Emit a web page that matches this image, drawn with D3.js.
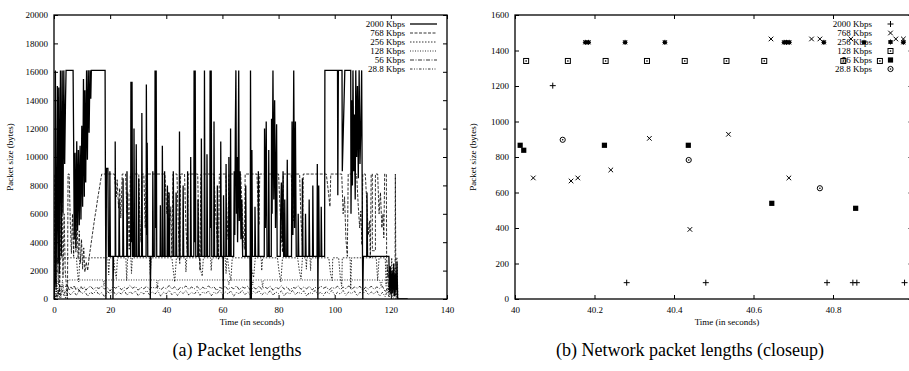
<!DOCTYPE html>
<html><head><meta charset="utf-8">
<script src="https://cdn.jsdelivr.net/npm/d3@7"></script>
<style>body{margin:0;background:#fff}svg{display:block}text{font-family:"Liberation Serif","Times New Roman",serif;fill:#000}</style>
</head><body><svg id="c" width="909" height="371"></svg>
<script>
// ---------- Left chart: packet lengths over time ----------
const leftSeriesNames = ["2000 Kbps","768 Kbps","256 Kbps","128 Kbps","56 Kbps","28.8 Kbps"];
const leftXTicks = [0,20,40,60,80,100,120,140];
const leftYTicks = [0,2000,4000,6000,8000,10000,12000,14000,16000,18000,20000];

const s2000 = [[0,200],[0.3,1500],[0.5,16100],[0.7,900],[1.0,7000],[1.2,15000],[1.4,2500],[1.7,14900],[1.9,1800],[2.3,16100],[2.6,3000],[2.9,16100],[3.2,6000],[3.5,16100],[3.8,9500],[4.1,14000],[4.3,16100],[6.8,16100],[7.0,11000],[7.2,4200],[7.5,10300],[7.8,3600],[8.1,11100],[8.4,4800],[8.7,10500],[9.0,5200],[9.3,10800],[9.6,5600],[9.9,12200],[10.2,6500],[10.5,15500],[10.8,7200],[11.0,14700],[11.3,8200],[11.6,16100],[11.9,9800],[12.2,16100],[12.5,11700],[12.8,16100],[13.1,14100],[13.3,16100],[18.2,16100],[18.3,9200],[18.5,0],[18.7,9200],[19.2,9200],[19.4,3000],
[19.8,3000],[19.9,9000],[20.1,3000],[21.0,3000],[21.0,0],[21.2,3000],[21.8,3000],[21.8,11100],[22.0,3000],[23.1,3000],[23.2,7000],[23.4,3000],[24.5,3000],[24.6,8500],[24.8,3000],[25.9,3000],[26.0,9000],[26.2,3000],
[27.3,3000],[27.4,15300],[27.6,4000],[27.8,15300],[28.0,3000],[28.4,3000],[28.5,12000],[28.7,3000],[29.2,3000],[29.3,10900],[29.5,3000],[30.1,3000],[30.2,8500],[30.4,3000],[31.2,3000],[31.3,13100],[31.5,3000],
[32.8,3000],[32.9,15100],[33.1,4500],[33.2,11000],[33.4,3000],[34.3,3000],[34.3,0],[34.5,3000],[35.1,3000],[35.2,9000],[35.4,3000],
[35.9,3000],[36.0,16100],[36.2,5000],[36.4,16100],[36.6,3000],[37.8,3000],[37.9,6600],[38.0,3000],[38.5,3000],[38.6,10800],[38.8,3000],[39.3,3000],[39.4,9000],[39.6,3000],
[40.3,3000],[40.4,8000],[40.6,3000],[40.9,3000],[41.0,7500],[41.2,3000],[42.4,3000],[42.5,9000],[42.7,3000],[43.4,3000],[43.5,7500],[43.7,3000],
[44.6,3000],[44.7,11800],[44.9,3000],[45.9,3000],[46.0,8000],[46.2,3000],[47.5,3000],[47.6,9000],[47.8,3000],[48.6,3000],[48.7,10000],[48.9,3000],
[49.8,3000],[49.9,16100],[50.1,4000],[50.3,16100],[50.5,3000],[51.2,3000],[51.3,7000],[51.5,3000],[52.4,3000],[52.5,11300],[52.7,3000],
[53.5,3000],[53.6,16100],[53.8,3000],[54.4,3000],[54.5,10200],[54.7,3000],
[55.5,3000],[55.6,16100],[55.8,5000],[56.0,16100],[56.2,3000],[56.9,3000],[57.0,12500],[57.2,3000],[58.1,3000],[58.2,8000],[58.4,3000],
[59.3,3000],[59.4,11100],[59.6,3000],[60.2,3000],[60.3,0],[60.4,7300],[60.6,3000],[61.2,3000],[61.3,9500],[61.5,3000],
[62.2,3000],[62.3,10000],[62.5,3000],[62.8,3000],[62.9,12000],[63.1,3000],
[64.0,3000],[64.2,9000],[64.4,4500],[64.6,12000],[64.8,16100],[65.0,6000],[65.2,10000],[65.4,4000],[65.6,8500],[65.8,16100],[66.0,5500],[66.3,9000],[66.6,4200],[66.9,7000],[67.2,3000],[68.2,3000],[68.3,8000],[68.5,3000],
[69.8,3000],[69.9,0],[70.0,16100],[70.3,0],[70.5,10500],[70.7,3000],[71.5,3000],[71.6,6500],[71.8,3000],[72.7,3000],[72.8,9000],[73.0,3000],
[74.9,3000],[75.0,12000],[75.3,5000],[75.6,12500],[75.9,3000],[76.4,3000],[76.5,10500],[76.7,3000],
[77.4,3000],[77.5,12700],[77.7,6000],[78.0,16100],[78.3,7000],[78.6,14000],[78.9,5000],[79.3,12300],[79.5,3000],
[80.6,3000],[80.7,5500],[81.0,8200],[81.3,4000],[81.6,9000],[81.8,3000],[82.1,3000],[82.2,7000],[82.4,3000],[82.9,3000],[83.1,9800],[83.3,3000],
[84.6,3000],[84.8,12500],[85.1,4500],[85.4,16100],[85.7,5000],[86.0,12500],[86.3,3000],
[86.9,3000],[87.0,6000],[87.2,3000],[88.4,3000],[88.5,8500],[88.7,3000],[89.5,3000],[89.6,6000],[89.8,3000],[90.8,3000],[90.9,7000],[91.1,3000],[92.1,3000],[92.2,8000],[92.4,3000],
[93.7,3000],[93.8,9500],[94.0,0],[94.3,8000],[94.5,3000],[95.1,3000],[95.2,6500],[95.4,3000],
[96.4,3000],[96.5,16100],[101.0,16100],[101.1,7300],[101.3,16100],[102.6,16100],[102.7,9000],[103.6,16100],[105.7,16100],[105.8,6000],[106.1,14000],[106.3,8000],[106.5,16100],[106.8,9000],[107.0,13000],[107.3,7000],[107.5,16100],[107.8,10000],[108.1,15000],[108.4,8500],[108.7,16100],[109.0,9500],[109.3,12000],[109.6,16100],[109.9,3000],[110.0,0],[110.2,3000],
[111.4,3000],[111.5,7500],[111.7,3000],[119.3,3000],[119.5,500],[119.8,2300],[120.1,300],[120.4,2000],[120.7,400],[121.0,2500],[121.3,200],[121.6,1800],[121.9,600],[122.2,2600],[122.4,0],[126,0]];

const s768 = [[0,0],[0.4,8800],[0.8,2500],[1.2,8800],[1.6,5000],[2.0,300],[2.4,4500],[2.8,8800],[3.2,1500],[3.6,6000],[4.0,2000],[4.8,0],[5.0,8800],[5.4,8800],[5.8,5500],[6.2,3200],[6.6,6000],[7.0,3000],[7.4,6500],[7.8,3300],[8.2,5500],[8.6,2800],[9.0,4800],[9.4,2500],[9.8,4200],[10.2,2100],[10.6,3600],[11.0,1900],[11.5,2600],[12.0,2000],[12.5,2900],[13.0,3600],[13.5,4300],[14.0,5000],[14.5,5700],[15.0,6300],[15.5,7000],[16.0,7600],[16.5,8200],[17.0,8800],
[21.5,8800],[22.2,7200],[22.5,8400],[23.0,6400],[23.4,7800],[23.8,5700],[24.3,8800],
[25.5,8800],[26.0,6000],[26.3,7500],[26.8,3500],[27.2,8800],[30.2,8800],[30.6,5500],[31.0,4000],[31.3,8800],[32.0,8800],[32.5,5000],[32.9,8800],
[39.5,8800],[40.2,6000],[40.7,7500],[41.2,4500],[41.6,6500],[42.0,3000],[42.4,8800],[43.8,8800],[44.3,5000],[44.8,2500],[45.1,8800],
[46.5,8800],[47.0,5000],[47.5,3200],[47.8,8800],[51.2,8800],[51.6,4500],[52.0,2000],[52.3,8800],
[57.0,8800],[57.6,6000],[58.1,4200],[58.6,2800],[58.9,8800],[61.2,8800],[61.6,6000],[62.0,4200],[62.3,8800],
[66.5,8800],[67.0,6500],[67.4,4800],[67.8,3500],[68.1,8800],[72.3,8800],[72.7,6500],[73.0,5200],[73.3,8800],
[80.0,8800],[80.5,6500],[81.0,4500],[81.4,3300],[81.7,8800],[84.5,8800],[85.0,6800],[85.4,5500],[85.7,8800],
[87.5,8800],[88.0,5500],[88.5,3800],[88.8,8800],[97.0,8800],[97.6,7800],[98.3,6500],[98.6,8800],
[102.5,8800],[103.0,6000],[103.5,7200],[104.0,4200],[104.5,3000],[104.8,8800],
[107.8,8800],[108.4,6500],[108.9,5000],[109.3,6200],[109.7,3800],[110.0,8800],
[110.9,8800],[111.5,6500],[112.0,4500],[112.4,5500],[112.7,2900],[113.0,8800],[113.4,8800],[113.4,3400],[114.5,3400],[114.5,8800],
[115.3,8800],[115.8,6000],[116.3,7500],[116.8,5000],[117.2,6000],[117.5,4300],[117.8,8800],[118.4,8800],[118.5,2800],[119.0,1500],[119.5,2200],[120.0,800],[120.5,1800],[121.0,600],[121.5,1500],[121.6,8800],[121.8,0]];

const s256 = [[0,0],[0.5,2900],[0.8,500],[1.2,2900],[1.6,1000],[2.0,2900],[8.0,2900],[8.4,1800],[8.8,1200],[9.2,2900],
[19.2,2900],[19.5,1700],[19.8,2900],[21.2,2900],[21.7,2000],[22.2,1450],[22.6,2900],[25.6,2900],[25.9,1300],[26.2,2900],[27.4,2900],[27.6,1800],[27.9,2900],
[34.0,2900],[34.3,1700],[34.6,2900],[42.0,2900],[42.5,2000],[43.0,1200],[43.6,2900],[46.8,2900],[47.0,1900],[47.3,2900],
[51.8,2900],[52.3,2000],[52.8,1600],[53.2,2900],[55.8,2900],[56.0,2000],[56.3,2900],[61.0,2900],[61.3,1800],[61.6,2900],[61.8,2900],[62.5,1800],[63.0,1300],[63.5,2900],
[69.9,2900],[70.5,2000],[71.1,1500],[71.7,2900],[73.8,2900],[74.0,2000],[74.3,2900],[79.6,2900],[80.2,1900],[80.8,1200],[81.4,2900],
[86.8,2900],[87.4,2000],[88.0,1400],[88.5,2900],[89.7,2900],[89.9,2100],[90.1,2900],[91.2,2900],[91.4,2000],[91.6,2900],
[97.9,2900],[98.5,1800],[99.1,1300],[99.3,2900],[101.4,2900],[102.0,1500],[102.5,900],[102.7,2900],[105.5,2900],[105.7,700],[106.0,2900],
[114.8,2900],[115.3,1300],[115.8,2900],[118.0,2900],[118.3,900],[118.7,2400],[119.1,600],[119.5,2000],[119.9,400],[120.3,2900],[120.7,700],[121.1,2200],[121.5,300],[121.9,2900],[122.2,2900],[122.5,0]];

const s128 = [[0,900],[0.5,0],[1.0,1340],[1.5,200],[2.0,1000],[2.5,100],[3.0,1340],[3.5,600],[4.2,0],[5.0,1340],[17.5,1340],[17.8,900],[18.1,1340],[36.5,1340],[36.8,700],[37.1,1340],[62.0,1340],[62.3,1000],[62.6,1340],[70.5,1340],[70.8,1000],[71.1,1340],[74.0,1340],[74.3,800],[74.6,1340],[116.0,1340],[116.5,900],[117.0,1340],[119.0,1340],[119.4,500],[119.8,1200],[120.3,300],[120.8,1000],[121.3,200],[121.8,1340],[122.4,0]];

const s56 = [[0,300],[0.6,900],[1.2,100],[1.8,890],[5.0,890],[5.4,600],[6.0,850],[6.6,700],[7.2,950],[7.8,650],[8.4,800],[9.0,550],[9.6,900],[10.2,700],[10.8,850],[11.4,620],[12.0,780],[13.0,900],[14.0,680],[15.0,820],[16.0,740],[17.0,900],[18.0,700],[19.0,820],[20.0,560],[21.0,870],[22.0,760],[23.0,900],[24.0,650],[25.0,820],[26.0,700],[27.0,950],[28.0,760],[29.0,880],[30.0,620],[31.0,830],[32.0,720],[33.0,900],[34.0,680],[35.0,840],[36.0,760],[37.0,900],[38.0,640],[39.0,820],[40.0,720],[41.0,950],[42.0,700],[43.0,860],[44.0,600],[45.0,820],[46.0,760],[47.0,920],[48.0,680],[49.0,840],[50.0,720],[51.0,890],[52.0,640],[53.0,830],[54.0,700],[55.0,920],[56.0,760],[57.0,850],[58.0,600],[59.0,820],[60.0,740],[61.0,900],[62.0,660],[63.0,840],[64.0,720],[65.0,930],[66.0,650],[67.0,850],[68.0,760],[69.0,900],[70.0,600],[71.0,830],[72.0,700],[73.0,910],[74.0,680],[75.0,850],[76.0,740],[77.0,900],[78.0,620],[79.0,830],[80.0,720],[81.0,940],[82.0,690],[83.0,860],[84.0,600],[85.0,820],[86.0,760],[87.0,920],[88.0,680],[89.0,840],[90.0,720],[91.0,890],[92.0,640],[93.0,830],[94.0,700],[95.0,920],[96.0,760],[97.0,850],[98.0,620],[99.0,820],[100.0,740],[101.0,900],[102.0,660],[103.0,840],[104.0,720],[105.0,930],[106.0,650],[107.0,850],[108.0,760],[109.0,900],[110.0,600],[111.0,830],[112.0,700],[113.0,910],[114.0,680],[115.0,850],[116.0,740],[117.0,900],[118.0,500],[118.8,800],[119.5,300],[120.2,900],[120.9,200],[121.6,700],[122.3,0]];

const s288 = [[0,700],[0.7,100],[1.4,600],[2.1,50],[2.8,750],[3.5,200],[4.2,650],[5.0,450],[6.0,300],[7.0,550],[8.0,250],[9.0,600],[10.0,380],[11.0,520],[12.0,200],[13.0,480],[14.0,350],[15.0,600],[16.0,300],[17.0,450],[18.0,150],[19.0,520],[20.0,380],[21.0,600],[22.0,280],[23.0,470],[24.0,350],[25.0,620],[26.0,260],[27.0,500],[28.0,380],[29.0,560],[30.0,230],[31.0,480],[32.0,360],[33.0,600],[34.0,300],[35.0,500],[36.0,350],[37.0,580],[38.0,200],[39.0,470],[40.0,360],[41.0,620],[42.0,300],[43.0,500],[44.0,250],[45.0,540],[46.0,380],[47.0,600],[48.0,280],[49.0,470],[50.0,340],[51.0,600],[52.0,260],[53.0,500],[54.0,380],[55.0,570],[56.0,220],[57.0,480],[58.0,350],[59.0,620],[60.0,300],[61.0,500],[62.0,350],[63.0,580],[64.0,200],[65.0,470],[66.0,360],[67.0,620],[68.0,300],[69.0,500],[70.0,250],[71.0,540],[72.0,380],[73.0,600],[74.0,280],[75.0,470],[76.0,340],[77.0,600],[78.0,260],[79.0,500],[80.0,380],[81.0,570],[82.0,220],[83.0,480],[84.0,350],[85.0,620],[86.0,300],[87.0,500],[88.0,350],[89.0,580],[90.0,200],[91.0,470],[92.0,360],[93.0,620],[94.0,300],[95.0,500],[96.0,250],[97.0,540],[98.0,380],[99.0,600],[100.0,280],[101.0,470],[102.0,340],[103.0,600],[104.0,260],[105.0,500],[106.0,380],[107.0,570],[108.0,220],[109.0,480],[110.0,350],[111.0,620],[112.0,300],[113.0,500],[114.0,350],[115.0,580],[116.0,200],[117.0,470],[118.0,150],[118.7,600],[119.4,100],[120.1,500],[120.8,50],[121.5,400],[122.2,0]];

const leftSeries = [s2000, s768, s256, s128, s56, s288];

// ---------- Right chart: network packet lengths (closeup) ----------
const rightXTicks = [40,40.2,40.4,40.6,40.8];
const rightYTicks = [0,200,400,600,800,1000,1200,1400,1600];
const r2000 = [[40.095,1202],[40.281,92],[40.48,92],[40.785,92],[40.85,92],[40.86,92],[40.98,92]];
const r768 = [[40.046,682],[40.141,665],[40.158,682],[40.241,727],[40.338,905],[40.44,392],[40.537,928],[40.644,1465],[40.689,682],[40.746,1465],[40.767,1465],[40.845,1465],[40.958,1465],[40.977,1465]];
const r256 = [[40.177,1446],[40.185,1446],[40.277,1446],[40.377,1446],[40.677,1446],[40.683,1446],[40.69,1446],[40.777,1446],[40.878,1446],[40.977,1446]];
const r128 = [[40.028,1341],[40.133,1341],[40.228,1341],[40.332,1341],[40.427,1341],[40.532,1341],[40.627,1341],[40.826,1341],[40.918,1341]];
const r56 = [[40.013,866],[40.022,838],[40.225,866],[40.436,866],[40.646,539],[40.857,511]];
const r288 = [[40.12,897],[40.437,783],[40.767,624]];
const rightSeries = [r2000, r768, r256, r128, r56, r288];

// ---------- drawing ----------
const svg = d3.select("#c");
const dashes = [null, "3,1.5", "1.5,1.5", "1,1.5", "4,1.5,1,1.5", "2.5,1.5,1,1.5,1,1.5"];
const widths = [1.3, 0.8, 0.8, 0.8, 0.8, 0.8];

function frame(g, x, y, xt, yt, fmtX) {
  const [x0,x1] = x.range(), [y0,y1] = y.range();
  const ax = (axis, tr) => g.append("g").attr("transform", tr).call(axis).call(s => {
    s.select(".domain").remove();
    s.selectAll("line").attr("stroke","#000").attr("stroke-width",1);
    s.selectAll("text").attr("font-size",9).attr("font-family","Liberation Serif, serif");
  });
  ax(d3.axisLeft(y).tickValues(yt).tickSize(-4).tickPadding(6).tickFormat(d3.format("d")), `translate(${x0},0)`);
  ax(d3.axisRight(y).tickValues(yt).tickSize(-4).tickFormat(""), `translate(${x1},0)`);
  ax(d3.axisBottom(x).tickValues(xt).tickSize(-4).tickPadding(8).tickFormat(fmtX), `translate(0,${y0})`);
  ax(d3.axisTop(x).tickValues(xt).tickSize(-4).tickFormat(""), `translate(0,${y1})`);
  g.append("rect").attr("x",x0).attr("y",y1).attr("width",x1-x0).attr("height",y0-y1)
   .attr("fill","none").attr("stroke","#000").attr("stroke-width",1.3);
}

// Left chart
const xL = d3.scaleLinear().domain([0,140]).range([54,447]);
const yL = d3.scaleLinear().domain([0,20000]).range([299,15]);
const gL = svg.append("g");
gL.append("clipPath").attr("id","clipL").append("rect").attr("x",54).attr("y",15).attr("width",393).attr("height",284);
const line = d3.line().x(d=>xL(d[0])).y(d=>yL(d[1]));
const drawOrder = [5,4,3,2,1,0];
drawOrder.forEach(i => {
  gL.append("path").attr("clip-path","url(#clipL)").attr("d", line(leftSeries[i]))
    .attr("fill","none").attr("stroke","#000").attr("stroke-width",widths[i])
    .attr("stroke-dasharray", dashes[i]).attr("stroke-linejoin","miter");
});
frame(gL, xL, yL, leftXTicks, leftYTicks, d3.format("d"));
leftSeriesNames.forEach((n,i) => {
  const yy = 24 + i*9;
  gL.append("text").attr("x",405).attr("y",yy).attr("dy","0.33em").attr("text-anchor","end").attr("font-size",9).text(n);
  gL.append("line").attr("x1",410).attr("x2",437).attr("y1",yy).attr("y2",yy).attr("stroke","#000")
    .attr("stroke-width",widths[i]).attr("stroke-dasharray",dashes[i]);
});
gL.append("text").attr("transform","translate(13,157) rotate(-90)").attr("text-anchor","middle").attr("font-size",9).text("Packet size (bytes)");
gL.append("text").attr("x",252).attr("y",325).attr("text-anchor","middle").attr("font-size",9).text("Time (in seconds)");

// Right chart
const xR = d3.scaleLinear().domain([40,41]).range([515,912.5]);
const yR = d3.scaleLinear().domain([0,1600]).range([299,15]);
const gR = svg.append("g");
frame(gR, xR, yR, rightXTicks, rightYTicks, d => d===40 ? "40" : d3.format(".1f")(d));

function marker(g, type, cx, cy) {
  const s = g.append("g").attr("transform",`translate(${cx},${cy})`);
  const L = (x1,y1,x2,y2) => s.append("line").attr("x1",x1).attr("y1",y1).attr("x2",x2).attr("y2",y2).attr("stroke","#000").attr("stroke-width",1);
  if (type===0) { L(-3,0,3,0); L(0,-3,0,3); }
  else if (type===1) { L(-2.3,-2.3,2.3,2.3); L(-2.3,2.3,2.3,-2.3); }
  else if (type===2) { L(-2.5,0,2.5,0); L(0,-2.5,0,2.5); L(-2,-2,2,2); L(-2,2,2,-2); s.append("rect").attr("x",-1.8).attr("y",-1.8).attr("width",3.6).attr("height",3.6).attr("fill","#000"); }
  else if (type===3) { s.append("rect").attr("x",-2.5).attr("y",-2.5).attr("width",5).attr("height",5).attr("fill","none").attr("stroke","#000").attr("stroke-width",1); s.append("rect").attr("x",-0.7).attr("y",-0.7).attr("width",1.4).attr("height",1.4).attr("fill","#000"); }
  else if (type===4) { s.append("rect").attr("x",-2.6).attr("y",-2.6).attr("width",5.2).attr("height",5.2).attr("fill","#000"); }
  else if (type===5) { s.append("circle").attr("r",2.6).attr("fill","none").attr("stroke","#000").attr("stroke-width",1); s.append("circle").attr("r",0.8).attr("fill","#000"); }
}
rightSeries.forEach((ser,i) => ser.forEach(d => marker(gR, i, xR(d[0]), yR(d[1]))));
leftSeriesNames.forEach((n,i) => {
  const yy = 24 + i*9;
  gR.append("text").attr("x",872).attr("y",yy).attr("dy","0.33em").attr("text-anchor","end").attr("font-size",9).text(n);
  marker(gR, i, 890.5, yy);
});
gR.append("text").attr("transform","translate(476,157) rotate(-90)").attr("text-anchor","middle").attr("font-size",9).text("Packet size (bytes)");
gR.append("text").attr("x",727).attr("y",325).attr("text-anchor","middle").attr("font-size",9).text("Time (in seconds)");

// Captions
svg.append("text").attr("x",237).attr("y",356).attr("text-anchor","middle").attr("font-size",18).text("(a) Packet lengths");
svg.append("text").attr("x",690).attr("y",356).attr("text-anchor","middle").attr("font-size",18).text("(b) Network packet lengths (closeup)");
</script></body></html>
